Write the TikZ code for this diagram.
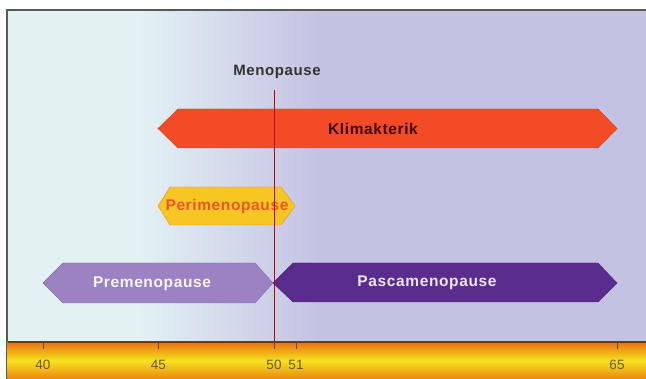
\documentclass[tikz,border=0pt]{standalone}
\usepackage{fontspec}
\setmainfont{Liberation Sans}
\usepackage{tikz}
\usetikzlibrary{positioning}

\definecolor{bgleft}{HTML}{E3F1F3}
\definecolor{bgright}{HTML}{C4C2E3}
\definecolor{klimred}{HTML}{F24B26}
\definecolor{periyellow}{HTML}{F8C622}
\definecolor{perioutline}{HTML}{EE8A2A}
\definecolor{periorange}{HTML}{F0552A}
\definecolor{prelila}{HTML}{9D82C3}
\definecolor{pastpurple}{HTML}{5A2C8D}
\definecolor{axisorange}{HTML}{E8700E}
\definecolor{axisyellow}{HTML}{F6E31E}
\definecolor{ticktext}{HTML}{6A5A30}

\tikzset{
    band/.style={
        draw=#1!85!black,
        line width=0.4pt,
        fill=#1
    },
    bandlabel/.style={
        font=\fontsize{15.5}{18}\selectfont\bfseries\addfontfeature{LetterSpace=4},
        inner sep=0pt
    },
    tick/.style={
        draw=ticktext!80!black,
        line width=0.8pt
    },
    ticklabel/.style={
        font=\fontsize{13.5}{15}\selectfont,
        text=ticktext,
        inner sep=0pt
    }
}

\begin{document}
\begin{tikzpicture}[
    x=1pt,
    y=-1pt
]

    \useasboundingbox (0,0) rectangle (646,379);
    \fill[white] (0,0) rectangle (646,379);

    % Fondo
    \fill[bgleft]  (7,10) rectangle (140,342);
    \shade[left color=bgleft, right color=bgright] (139,10) rectangle (320,342);
    \fill[bgright] (319,10) rectangle (646,342);
    \draw[gray!70!black, line width=1.5pt] (7,379) -- (7,10) -- (646,10);

    % Eje
    \shade[top color=axisorange, bottom color=axisorange!80!axisyellow,
           middle color=axisyellow] (7.7,342) rectangle (646,379);
    \draw[axisorange!50!black, line width=1.2pt] (7.7,342) -- (646,342);

    \coordinate (y40) at (43,342);
    \coordinate (y45) at (158.5,342);
    \coordinate (y50) at (274,342);
    \coordinate (y51) at (296,342);
    \coordinate (y65) at (617,342);

    \foreach \yr in {40,45,50,51,65} {
        \draw[tick] (y\yr) -- ++(0,7);
        \node[ticklabel] (l\yr) at ([yshift=-23]y\yr) {\yr};
    }

    % Menopausia
    \node[font=\fontsize{15}{18}\selectfont\bfseries\addfontfeature{LetterSpace=4}, text=black!80] (meno) at (277,72) {Menopause};
    \coordinate (mtop) at (274,90);

    % Klimakterik
    \fill[band=klimred]
        (158,128.5) -- (178,109) -- (598,109) -- (617,128.5)
        -- (598,148) -- (178,148) -- cycle;
    \node[bandlabel, text=black!75!red] (klim) at (373,129) {Klimakterik};

    % Perimenopause
    \fill[band=periyellow, draw=perioutline]
        (158,206) -- (170,187) -- (281,187) -- (295,206)
        -- (281,225) -- (170,225) -- cycle;
    \node[bandlabel, text=periorange] (peri) at (227,206.5) {Perimenopause};

    % Premenopause
    \fill[band=prelila]
        (43,283) -- (63,263) -- (255,263) -- (273,283)
        -- (255,303) -- (63,303) -- cycle;
    \node[bandlabel, text=white!92!prelila] (pre) at (152,283.5) {Premenopause};

    % Pascamenopause
    \fill[band=pastpurple]
        (273,283) -- (293,263) -- (598,263) -- (617,283)
        -- (598,302) -- (293,302) -- cycle;
    \node[bandlabel, text=white!88!pastpurple] (pasca) at (427,282.5) {Pascamenopause};

    % Linea de la menopausia
    \draw[red!75!black, line width=0.9pt] (mtop) -- (y50);

\end{tikzpicture}
\end{document}
